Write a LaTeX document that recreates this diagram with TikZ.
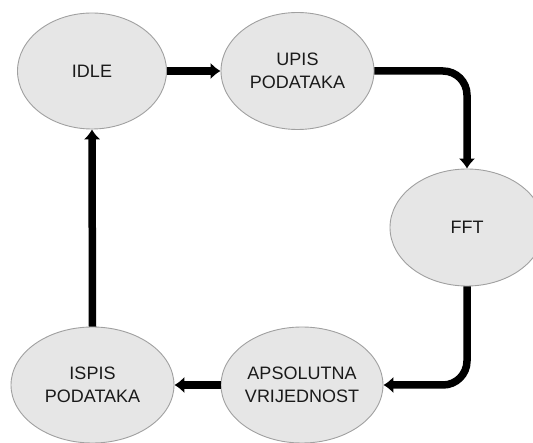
\documentclass[tikz,border=0pt]{standalone}
\usepackage{fontspec}
\setmainfont{Liberation Sans}
\usetikzlibrary{shapes.geometric,arrows.meta}
\definecolor{statefill}{HTML}{E6E6E6}
\definecolor{stateline}{HTML}{A0A0A0}
\definecolor{statetext}{HTML}{1A1A1A}
\tikzset{
  state/.style={ellipse, draw=stateline, fill=statefill, line width=0.9pt,
    inner sep=0pt, align=center, text=statetext,
    font=\fontsize{18}{23.6}\selectfont},
  flow/.style={line width=7.5pt, -{Latex[length=10pt,width=17pt]}, rounded corners=24pt}
}
\begin{document}
\begin{tikzpicture}[x=1pt,y=-1pt]
\useasboundingbox (0,0) rectangle (533,443);
\clip (0,0) rectangle (533,443);
\node[state, minimum width=149pt, minimum height=116pt] (idle) at (92,71) {IDLE};
\node[state, minimum width=153pt, minimum height=117pt] (upis) at (297.5,71) {UPIS\\PODATAKA};
\node[state, minimum width=154pt, minimum height=117pt] (fft) at (467,227.5) {FFT};
\node[state, minimum width=162pt, minimum height=116pt] (aps) at (302,385) {APSOLUTNA\\VRIJEDNOST};
\node[state, minimum width=163pt, minimum height=116pt] (ispis) at (92.5,385) {ISPIS\\PODATAKA};
\draw[flow] (idle.east) -- (upis.west);
\draw[flow] (upis.east) -| (fft.north);
\draw[flow] (fft.south) |- (aps.east);
\draw[flow] (aps.west) -- (ispis.east);
\draw[flow] (ispis.north) -- (idle.south);
\end{tikzpicture}
\end{document}
